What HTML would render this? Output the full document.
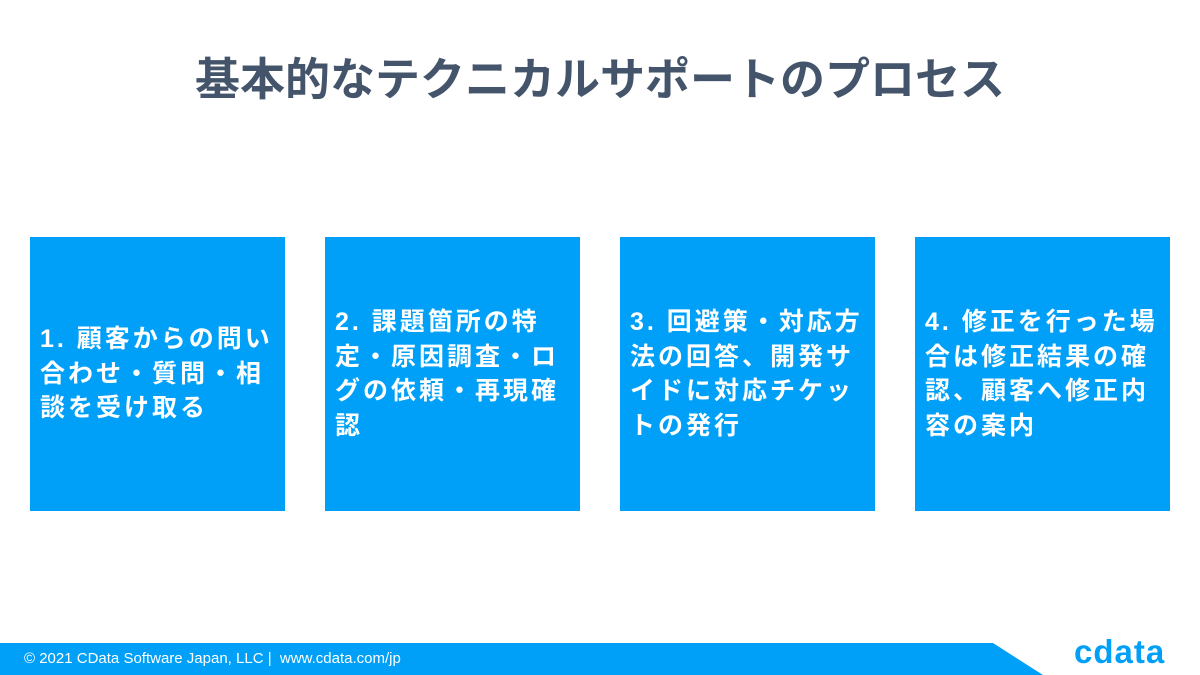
<!DOCTYPE html>
<html><head><meta charset="utf-8"><style>
body{margin:0;width:1200px;height:675px;background:#fff;position:relative;overflow:hidden;font-family:"Liberation Sans","Noto Sans CJK JP",sans-serif}
.t{position:absolute;top:52px;left:0;width:1200px;text-align:center;font-size:45px;font-weight:bold;color:#44546a;line-height:56px}
.b{position:absolute;top:237px;width:255px;height:274px;background:#00a0f8;color:#fff;font-size:25px;font-weight:bold;line-height:34.5px;display:flex;align-items:center;box-sizing:border-box;padding:0 0 0 10px;white-space:nowrap;letter-spacing:3px}
.f{position:absolute;left:24px;top:650px;font-size:15px;color:#fff}
.logo{position:absolute;left:1074px;top:633px;font-size:33px;font-weight:bold;color:#00a0f8;letter-spacing:1px}
</style></head><body>
<div class="t">基本的なテクニカルサポートのプロセス</div>
<div class="b" style="left:30px"><div>1. 顧客からの問い<br>合わせ・質問・相<br>談を受け取る</div></div>
<div class="b" style="left:325px"><div>2. 課題箇所の特<br>定・原因調査・ロ<br>グの依頼・再現確<br>認</div></div>
<div class="b" style="left:620px"><div>3. 回避策・対応方<br>法の回答、開発サ<br>イドに対応チケッ<br>トの発行</div></div>
<div class="b" style="left:915px"><div>4. 修正を行った場<br>合は修正結果の確<br>認、顧客へ修正内<br>容の案内</div></div>
<svg style="position:absolute;left:0;top:0" width="1200" height="675"><polygon points="0,643 993,643 1043,675 0,675" fill="#00a0f8"/></svg>
<div class="f">© 2021 CData Software Japan, LLC | &nbsp;www.cdata.com/jp</div>
<div class="logo">cdata</div>
</body></html>
